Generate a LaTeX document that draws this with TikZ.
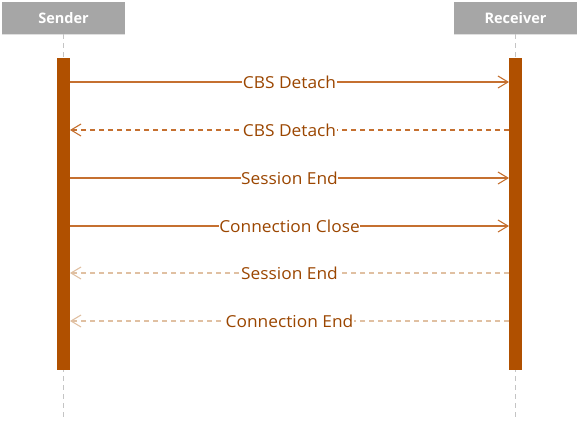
\documentclass[tikz,border=0pt]{standalone}
\usepackage{fontspec}
\setmainfont{Open Sans}
\newfontfamily\msgfont[FakeStretch=1.05]{Open Sans}
\usetikzlibrary{arrows.meta,positioning}
\definecolor{barbrown}{RGB}{176,80,0}
\definecolor{msgline}{RGB}{197,112,48}
\definecolor{msgfade}{RGB}{224,192,162}
\definecolor{msgtext}{RGB}{155,70,0}
\definecolor{headgray}{RGB}{166,166,166}
\definecolor{lifegray}{RGB}{196,196,196}

\tikzset{
  head/.style={fill=headgray, text=white, font=\bfseries\fontsize{14.5}{16}\selectfont,
    minimum width=123pt, minimum height=32pt, inner sep=0pt},
  lifeline/.style={lifegray, dash pattern=on 5pt off 4pt, line width=0.8pt},
  activation/.style={fill=barbrown, minimum width=12.5pt, minimum height=312pt, inner sep=0pt},
  msg/.style={msgline, line width=1.1pt, -{Straight Barb[length=10pt,width=12pt]}},
  reply/.style={msg, dash pattern=on 5pt off 4pt},
  fadedreply/.style={reply, msgfade},
  msglabel/.style={fill=white, text=msgtext, inner sep=0.5pt, font=\msgfont\fontsize{16.5}{18}\selectfont}
}

\begin{document}
\begin{tikzpicture}[x=1pt,y=-1pt]
\useasboundingbox (0,0) rectangle (579,421);

% heads and lifelines
\node[head] (sender) at (63.5,18) {Sender};
\node[head] (receiver) at (515.5,18) {Receiver};
\draw[gray!25] (sender.south west) -- (sender.south east);
\draw[gray!25] (receiver.south west) -- (receiver.south east);
\coordinate (sendend) at (63.5,421);
\coordinate (recvend) at (515.5,421);
\draw[lifeline] (sender.south) -- (sendend);
\draw[lifeline] (receiver.south) -- (recvend);

% activation bars
\node[activation, below=24pt of sender.south] (sbar) {};
\node[activation, below=24pt of receiver.south] (rbar) {};

% messages
\foreach \y/\from/\to/\kind/\txt [count=\i] in {
    82/s/r/msg/CBS Detach,
    130/r/s/reply/CBS Detach,
    178/s/r/msg/Session End,
    226/s/r/msg/Connection Close,
    273/r/s/fadedreply/Session End,
    321/r/s/fadedreply/Connection End}{
  \coordinate (s\i) at (sbar.east |- 0,\y);
  \coordinate (r\i) at (rbar.west |- 0,\y);
  \draw[\kind] (\from\i) -- node[msglabel] {\txt} (\to\i);
}
\end{tikzpicture}
\end{document}
